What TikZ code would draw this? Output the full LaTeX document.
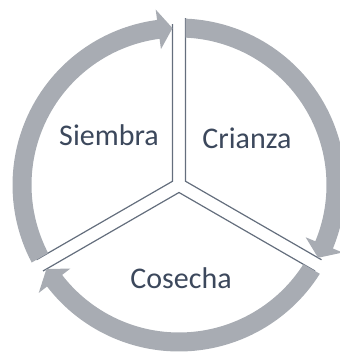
\documentclass[tikz,border=0pt]{standalone}
\usepackage{fontspec}
\setmainfont{Carlito}
\usetikzlibrary{calc}
\definecolor{ringgray}{RGB}{168,172,179}
\definecolor{edgeblue}{RGB}{100,110,125}
\definecolor{labelblue}{RGB}{60,72,92}
\tikzset{
  edge/.style={edgeblue, line width=1.2pt},
  phase/.style={labelblue, font=\fontsize{30}{36}\selectfont}
}
\begin{document}
\begin{tikzpicture}[x=1pt,y=1pt]
        \useasboundingbox (0,0) rectangle (339,352);
        \coordinate (O) at (179,167);
        \coordinate (S) at ($(O)+(150:7.5)$);
        \coordinate (C) at ($(O)+(30:7.5)$);
        \coordinate (K) at ($(O)+(270:7.5)$);
        \coordinate (ST) at ($(S)+(90:157)$);
        \coordinate (SB) at ($(S)+(210:157)$);
        \coordinate (CT) at ($(C)+(90:163)$);
        \coordinate (CB) at ($(C)+(-30:157)$);
        \coordinate (KL) at ($(K)+(210:157)$);
        \coordinate (KR) at ($(K)+(-30:157)$);
        % pie edges
        \draw[edge] (ST) -- (S) -- (SB);
        \draw[edge] (CT) -- (C) -- (CB);
        \draw[edge] (KL) -- (K) -- (KR);
        % ring arrows, clockwise from gap to gap
        \foreach \gs/\ge in {210/90, 90/-30, -30/-150} {
            \pgfmathsetmacro\so{\gs-asin(6.5/166.5)}
            \pgfmathsetmacro\si{\gs-asin(6.5/147.5)}
            \pgfmathsetmacro\tip{\ge+asin(6.5/157)}
            \pgfmathsetmacro\hb{\tip+5.2}
            \fill[ringgray] ($(O)+(\so:166.5)$)
                arc[start angle=\so, end angle=\hb, radius=166.5]
                -- ($(O)+(\hb:177)$) -- ($(O)+(\tip:157)$) -- ($(O)+(\hb:137)$)
                -- ($(O)+(\hb:147.5)$)
                arc[start angle=\hb, end angle=\si, radius=147.5] -- cycle;
        }
        \node[phase] (siembra) at (109,217) {Siembra};
        \node[phase] (crianza) at (247,214) {Crianza};
        \node[phase] (cosecha) at (181,74) {Cosecha};
    \end{tikzpicture}
\end{document}
